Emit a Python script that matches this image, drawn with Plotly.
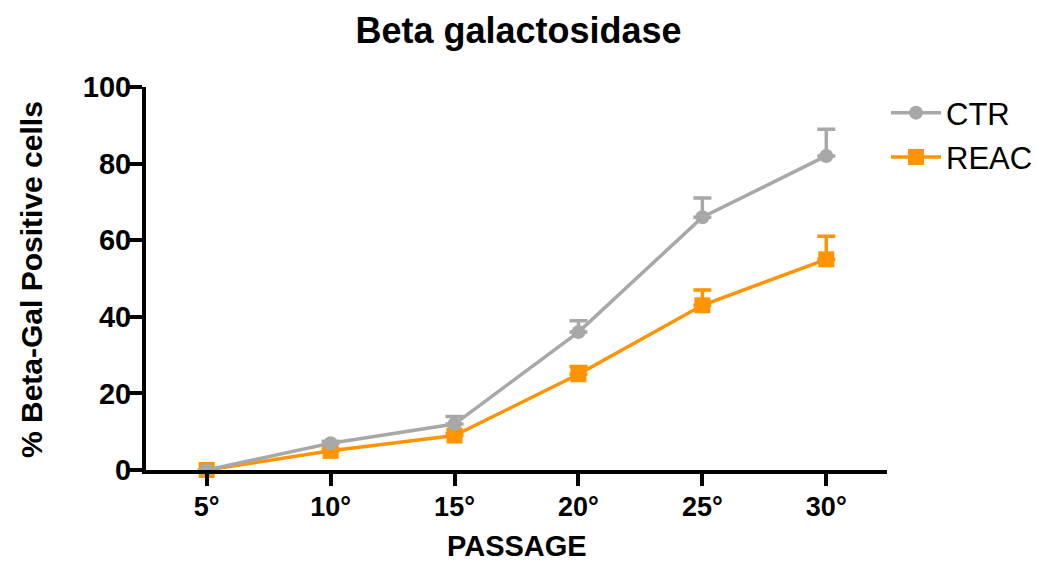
import plotly.graph_objects as go

# Passage categories and measured % Beta-Gal positive cells
passages = ["5°", "10°", "15°", "20°", "25°", "30°"]
ctr_mean = [0, 7, 12, 36, 66, 82]
ctr_err = [0, 0.5, 2, 3, 5, 7]
reac_mean = [0, 5, 9, 25, 43, 55]
reac_err = [0, 0.5, 0.5, 2, 4, 6]
y_ticks = [0, 20, 40, 60, 80, 100]

GRAY = "#A8A8A8"
ORANGE = "#FF9300"
FONT = "Liberation Sans"

xpos = list(range(len(passages)))

fig = go.Figure()

fig.add_trace(go.Scatter(
    x=xpos, y=reac_mean, name="REAC", mode="lines+markers",
    line=dict(color=ORANGE, width=3.5),
    marker=dict(symbol="square", size=16, color=ORANGE),
    error_y=dict(type="data", symmetric=False, array=reac_err,
                 arrayminus=[0] * len(reac_err), color=ORANGE,
                 thickness=3.5, width=9),
    cliponaxis=False, legendrank=2, legendgroup="b",
))
fig.add_trace(go.Scatter(
    x=xpos, y=ctr_mean, name="CTR", mode="lines+markers",
    line=dict(color=GRAY, width=3.5),
    marker=dict(symbol="circle", size=14, color=GRAY),
    error_y=dict(type="data", symmetric=False, array=ctr_err,
                 arrayminus=[0] * len(ctr_err), color=GRAY,
                 thickness=3.5, width=9),
    cliponaxis=False, legendrank=1, legendgroup="a",
))

fig.update_layout(
    width=1037, height=563,
    margin=dict(l=146, r=150, t=87, b=93, autoexpand=False),
    paper_bgcolor="white", plot_bgcolor="white",
    title=dict(text="<b>Beta galactosidase</b>", x=0.5, xanchor="center",
               xref="container", y=1 - 30 / 563, yanchor="middle",
               font=dict(family=FONT, size=36, color="black")),
    showlegend=True,
    legend=dict(xref="container", yref="container", x=886 / 1037,
                y=1 - 86 / 563, xanchor="left", yanchor="top",
                font=dict(family=FONT, size=31, color="black"),
                tracegroupgap=1, itemwidth=50, bgcolor="rgba(0,0,0,0)"),
    xaxis=dict(
        range=[-0.49, 5.49], tickmode="array", tickvals=xpos,
        ticktext=[f"<b>{p}</b>" for p in passages],
        showline=True, linecolor="black", linewidth=4, showgrid=False,
        zeroline=False, ticks="outside", ticklen=12, tickwidth=4,
        tickcolor="black", automargin=False, ticklabelstandoff=-2,
        tickfont=dict(family=FONT, size=27, color="black"),
    ),
    yaxis=dict(
        range=[0, 100], tickmode="array", tickvals=y_ticks,
        ticktext=[f"<b>{v}</b>" for v in y_ticks],
        showline=True, linecolor="black", linewidth=4, showgrid=False,
        zeroline=False, ticks="outside", ticklen=14, tickwidth=4,
        tickcolor="black", automargin=False, ticklabelstandoff=-9,
        tickfont=dict(family=FONT, size=29, color="black"),
    ),
    annotations=[
        dict(text="<b>PASSAGE</b>", xref="paper", yref="paper",
             x=0.5, y=-(546 - 470) / 383, xanchor="center", yanchor="middle",
             showarrow=False,
             font=dict(family=FONT, size=29, color="black")),
        dict(text="<b>% Beta-Gal Positive cells</b>", xref="paper",
             yref="paper", x=-(146 - 31) / 741, y=(470 - 280) / 383,
             xanchor="center", yanchor="middle", textangle=-90,
             showarrow=False,
             font=dict(family=FONT, size=30, color="black")),
    ],
)

fig.write_html("out.html")
